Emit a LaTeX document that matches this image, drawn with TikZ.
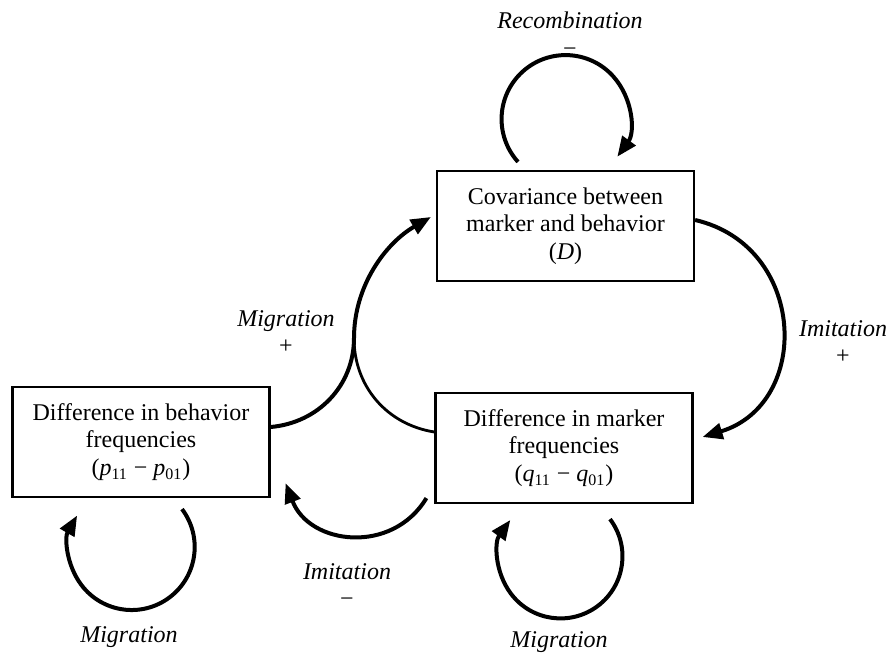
\documentclass[tikz,border=0pt]{standalone}
\usepackage{fontspec}
\setmainfont{Liberation Serif}
\usetikzlibrary{arrows.meta}

\begin{document}
\begin{tikzpicture}[x=0.5pt, y=-0.5pt, font=\fontsize{12}{13.75}\selectfont, every node/.style={align=center},
    box/.style={draw, line width=1.1pt, minimum width=128.5pt, minimum height=55pt, inner sep=0pt},
    flow/.style={line width=2pt, -{Triangle[length=10pt, width=8pt]}}]
    \useasboundingbox ({0},{0}) rectangle ({889},{660});

    \node[box] (cov) at ({565.5},{226}) {Covariance between\\marker and behavior\\(\textit{D})};
    \node[box] (beh) at ({141},{442}) {Difference in behavior\\frequencies\\(\textit{p}\textsubscript{11} − \textit{p}\textsubscript{01})};
    \node[box] (mark) at ({564},{448}) {Difference in marker\\frequencies\\(\textit{q}\textsubscript{11} − \textit{q}\textsubscript{01})};
    \coordinate (merge) at ({354},{338});

    % self loops
    \draw[flow] ([xshift=-23.75pt, yshift=4pt]cov.north) arc[start angle=222, end angle=-36, radius=32pt];
    \draw[flow] ([xshift=20.5pt, yshift=-5.5pt]beh.south) arc[start angle=37, end angle=-210, radius=31.5pt];
    \draw[flow] ([xshift=23pt, yshift=-7.5pt]mark.south) arc[start angle=37, end angle=-216, radius=31pt];

    % between boxes
    \draw[flow] ([yshift=3pt]cov.east) to[out=-13, in=17, looseness=1.35] ([xshift=4.5pt, yshift=5.5pt]mark.east);
    \draw[flow] ([yshift=7.5pt]beh.east) to[out=5, in=-90] (merge) to[out=90, in=210, looseness=0.93] ([xshift=-2.5pt, yshift=4.5pt]cov.west);
    \draw[line width=1.4pt] ([yshift=8pt]mark.west) to[out=171, in=-90] (merge);
    \draw[flow] ([xshift=-4pt, yshift=3pt]mark.south west) to[out=-121, in=-69, looseness=1.2] ([xshift=7.5pt, yshift=7.5pt]beh.south east);

    \node (recomb) at ({570},{34}) {\textit{Recombination}\\−};
    \node (migplus) at ({286},{332}) {\textit{Migration}\\+};
    \node (imiplus) at ({843},{342}) {\textit{Imitation}\\+};
    \node (imiminus) at ({347},{585}) {\textit{Imitation}\\−};
    \node (migbeh) at ({129},{637}) {\textit{Migration}};
    \node (migmark) at ({559},{642}) {\textit{Migration}};
\end{tikzpicture}
\end{document}
